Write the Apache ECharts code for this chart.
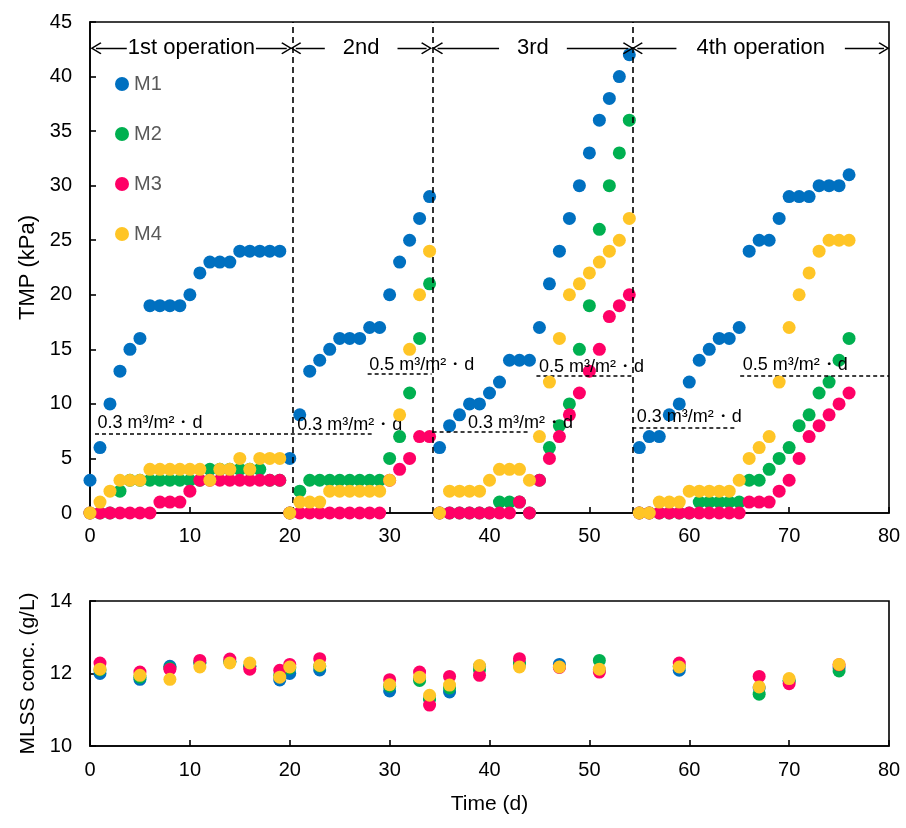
<!DOCTYPE html>
<html>
<head>
<meta charset="utf-8">
<script src="https://cdn.jsdelivr.net/npm/echarts@6/dist/echarts.min.js"></script>
<style>
  html, body { margin: 0; padding: 0; background: #fff; }
  #chart { width: 906px; height: 828px; }
</style>
</head>
<body>
<div id="chart"></div>
<script>
// Operating days (d) for the daily TMP record
const tmpDays = [
  0, 1, 2, 3, 4, 5, 6, 7, 8, 9, 10, 11, 12, 13, 14, 15, 16, 17, 18, 19,
  20, 21, 22, 23, 24, 25, 26, 27, 28, 29, 30, 31, 32, 33, 34,
  35, 36, 37, 38, 39, 40, 41, 42, 43, 44, 45, 46, 47, 48, 49, 50, 51, 52, 53, 54,
  55, 56, 57, 58, 59, 60, 61, 62, 63, 64, 65, 66, 67, 68, 69, 70, 71, 72, 73, 74, 75, 76
];

// TMP (kPa) per membrane
const tmpM1 = [
  3, 6, 10, 13, 15, 16, 19, 19, 19, 19, 20, 22, 23, 23, 23, 24, 24, 24, 24, 24,
  5, 9, 13, 14, 15, 16, 16, 16, 17, 17, 20, 23, 25, 27, 29,
  6, 8, 9, 10, 10, 11, 12, 14, 14, 14, 17, 21, 24, 27, 30, 33, 36, 38, 40, 42,
  6, 7, 7, 9, 10, 12, 14, 15, 16, 16, 17, 24, 25, 25, 27, 29, 29, 29, 30, 30, 30, 31
];
const tmpM2 = [
  0, 0, 0, 2, 3, 3, 3, 3, 3, 3, 3, 3, 4, 4, 4, 4, 4, 4, 3, 3,
  0, 2, 3, 3, 3, 3, 3, 3, 3, 3, 5, 7, 11, 16, 21,
  0, 0, 0, 0, 0, 0, 1, 1, 1, 0, 3, 6, 8, 10, 15, 19, 26, 30, 33, 36,
  0, 0, 0, 0, 0, 0, 1, 1, 1, 1, 1, 3, 3, 4, 5, 6, 8, 9, 11, 12, 14, 16
];
const tmpM3 = [
  0, 0, 0, 0, 0, 0, 0, 1, 1, 1, 2, 3, 3, 3, 3, 3, 3, 3, 3, 3,
  0, 0, 0, 0, 0, 0, 0, 0, 0, 0, 3, 4, 5, 7, 7,
  0, 0, 0, 0, 0, 0, 0, 0, 1, 0, 3, 5, 7, 9, 11, 13, 15, 18, 19, 20,
  0, 0, 0, 0, 0, 0, 0, 0, 0, 0, 0, 1, 1, 1, 2, 3, 5, 7, 8, 9, 10, 11
];
const tmpM4 = [
  0, 1, 2, 3, 3, 3, 4, 4, 4, 4, 4, 4, 3, 4, 4, 5, 4, 5, 5, 5,
  0, 1, 1, 1, 2, 2, 2, 2, 2, 2, 3, 9, 15, 20, 24,
  0, 2, 2, 2, 2, 3, 4, 4, 4, 3, 7, 12, 16, 20, 21, 22, 23, 24, 25, 27,
  0, 0, 1, 1, 1, 2, 2, 2, 2, 2, 3, 5, 6, 7, 12, 17, 20, 22, 24, 25, 25, 25
];

// MLSS sampling days and concentrations (g/L)
const mlssDays = [1, 5, 8, 11, 14, 16, 19, 20, 23, 30, 33, 34, 36, 39, 43, 47, 51, 59, 67, 70, 75];
const mlssM1 = [12.0, 11.84, 12.2, 12.3, 12.33, 12.2, 11.82, 12.0, 12.1, 11.52, 11.85, 11.3, 11.49, 12.2, 12.25, 12.25, 12.1, 12.09, 11.6, 11.8, 12.15];
const mlssM2 = [12.1, 11.9, 12.15, 12.3, 12.33, 12.2, 11.95, 12.15, 12.2, 11.65, 11.81, 11.3, 11.6, 12.1, 12.3, 12.18, 12.36, 12.2, 11.43, 11.8, 12.07];
const mlssM3 = [12.29, 12.04, 12.12, 12.36, 12.4, 12.12, 12.09, 12.25, 12.41, 11.83, 12.04, 11.13, 11.92, 11.95, 12.41, 12.17, 12.04, 12.29, 11.92, 11.72, 12.24];
const mlssM4 = [12.12, 11.95, 11.84, 12.18, 12.29, 12.29, 11.9, 12.18, 12.22, 11.69, 11.9, 11.4, 11.68, 12.22, 12.18, 12.18, 12.12, 12.18, 11.63, 11.86, 12.25];

const seriesNames = ['M1', 'M2', 'M3', 'M4'];
const seriesColors = ['#0070C0', '#00B050', '#FF0066', '#FFC526'];

// Tick labels
const xTicks = [0, 10, 20, 30, 40, 50, 60, 70, 80];
const tmpTicks = [0, 5, 10, 15, 20, 25, 30, 35, 40, 45];
const mlssTicks = [10, 12, 14];

// Operation periods: boundaries (d) and header spans (d, kPa)
const opBoundaries = [20.3, 34.3, 54.3];
const opLabels = ['1st operation', '2nd', '3rd', '4th operation'];
const opSpanFrom = [0.6, 20.6, 34.8, 54.8];
const opSpanTo = [19.7, 33.7, 53.9, 79.5];
const opSpanLevel = 42.6;

// Flux set-points: dashed segments [from d, to d, TMP level] and their text anchors [d, kPa]
const fluxTexts = ['0.3 m³/m²・d', '0.3 m³/m²・d', '0.5 m³/m²・d', '0.3 m³/m²・d', '0.5 m³/m²・d', '0.3 m³/m²・d', '0.5 m³/m²・d'];
const fluxSegments = [
  [0.5, 20.0, 7.25],
  [20.1, 28.2, 7.25],
  [27.8, 34.2, 12.75],
  [34.3, 44.1, 7.45],
  [44.7, 54.2, 12.6],
  [54.3, 64.7, 7.8],
  [65.1, 80, 12.6]
];
const fluxTextAnchors = [
  [0.7, 8.2],
  [20.7, 8.1],
  [27.9, 13.6],
  [37.8, 8.2],
  [44.9, 13.4],
  [54.7, 8.8],
  [65.3, 13.6]
];

const FONT = '"Liberation Sans", Arial, sans-serif';
const opLabelPad = [1, 18, 18, 20];
// open arrow head, tip pointing along the line
const chevron = 'path://M0,0 L6,8 L5,8.9 L0,2.2 L-5,8.9 L-6,8 Z';

const chart = echarts.init(document.getElementById('chart'), null, { renderer: 'canvas' });

function zipPoints(xs, ys) {
  return xs.map((x, i) => [x, ys[i]]);
}

const tmpValues = [tmpM1, tmpM2, tmpM3, tmpM4];
const mlssValues = [mlssM1, mlssM2, mlssM3, mlssM4];

const series = [];
tmpValues.forEach((vals, k) => {
  series.push({
    type: 'scatter', name: seriesNames[k], xAxisIndex: 0, yAxisIndex: 0,
    data: zipPoints(tmpDays, vals), symbol: 'circle', symbolSize: 13,
    itemStyle: { color: seriesColors[k], opacity: 1 }, z: 2 + k,
    emphasis: { disabled: true }, animation: false
  });
});
mlssValues.forEach((vals, k) => {
  series.push({
    type: 'scatter', name: seriesNames[k], xAxisIndex: 1, yAxisIndex: 1,
    data: zipPoints(mlssDays, vals), symbol: 'circle', symbolSize: 13,
    itemStyle: { color: seriesColors[k], opacity: 1 }, z: 2 + k,
    emphasis: { disabled: true }, animation: false
  });
});

// Dashed guides: operation boundaries and flux set-points
const boundaryLines = opBoundaries.map(x => ({
  xAxis: x, lineStyle: { type: [6, 4], width: 1.6, color: '#000' }, label: { show: false }
}));
const fluxLines = fluxSegments.map(s => ([
  { coord: [s[0], s[2]], lineStyle: { type: [4, 3], width: 1.5, color: '#000' }, label: { show: false } },
  { coord: [s[1], s[2]] }
]));

series.push({
  type: 'scatter', name: 'guides', xAxisIndex: 0, yAxisIndex: 0,
  data: [], z: 10, animation: false, silent: true,
  markLine: {
    silent: true, animation: false, symbol: 'none', precision: 2,
    data: [...boundaryLines, ...fluxLines]
  },
  markPoint: {
    silent: true, animation: false, symbol: 'circle', symbolSize: 1,
    itemStyle: { color: 'rgba(0,0,0,0)' },
    label: {
      show: true, position: 'right', distance: 0, fontFamily: FONT, fontSize: 18, color: '#000',
      formatter: p => p.name
    },
    data: fluxTextAnchors.map((c, i) => ({ coord: c, name: fluxTexts[i] }))
  }
});

// Period headers: double-headed arrows with the period name
const headerLines = opLabels.map((name, i) => ([
  {
    coord: [opSpanFrom[i], opSpanLevel], name,
    lineStyle: { type: 'solid', width: 1.3, color: '#000' },
    label: {
      show: true, position: 'insideMiddle', formatter: name,
      fontFamily: FONT, fontSize: 22, color: '#000',
      backgroundColor: '#fff', padding: [2, opLabelPad[i]]
    }
  },
  { coord: [opSpanTo[i], opSpanLevel] }
]));

series.push({
  type: 'scatter', name: 'periods', xAxisIndex: 0, yAxisIndex: 0,
  data: [], z: 11, animation: false, silent: true,
  markLine: {
    silent: true, animation: false, symbol: [chevron, chevron], symbolSize: [12, 11],
    precision: 2, data: headerLines
  }
});

const axisLineStyle = { color: '#000', width: 1.6 };
const tickStyle = { show: true, inside: true, length: 6, lineStyle: { color: '#000', width: 1.6 } };

const option = {
  backgroundColor: '#fff',
  animation: false,
  textStyle: { fontFamily: FONT },
  legend: {
    data: seriesNames, orient: 'vertical', left: 115, top: 74,
    itemWidth: 14, itemHeight: 14, itemGap: 30, padding: 0,
    icon: 'circle', selectedMode: false,
    textStyle: { fontFamily: FONT, fontSize: 20, color: '#595959' }
  },
  grid: [
    { left: 90, right: 17, top: 22, height: 491, show: true, borderColor: '#000', borderWidth: 1.6, backgroundColor: 'transparent' },
    { left: 90, right: 17, top: 601, height: 145, show: true, borderColor: '#000', borderWidth: 1.6, backgroundColor: 'transparent' }
  ],
  xAxis: [
    {
      gridIndex: 0, type: 'value', min: xTicks[0], max: xTicks[xTicks.length - 1], interval: 10,
      axisLine: { show: true, lineStyle: axisLineStyle }, axisTick: tickStyle,
      splitLine: { show: false },
      axisLabel: { fontSize: 20, color: '#000', margin: 13, fontFamily: FONT }
    },
    {
      gridIndex: 1, type: 'value', min: xTicks[0], max: xTicks[xTicks.length - 1], interval: 10,
      axisLine: { show: true, lineStyle: axisLineStyle }, axisTick: tickStyle,
      splitLine: { show: false },
      axisLabel: { fontSize: 20, color: '#000', margin: 14, fontFamily: FONT },
      name: 'Time (d)', nameLocation: 'middle', nameGap: 48,
      nameTextStyle: { fontSize: 21, color: '#000', fontFamily: FONT }
    }
  ],
  yAxis: [
    {
      gridIndex: 0, type: 'value', min: tmpTicks[0], max: tmpTicks[tmpTicks.length - 1], interval: 5,
      axisLine: { show: true, lineStyle: axisLineStyle }, axisTick: tickStyle,
      splitLine: { show: false },
      axisLabel: { fontSize: 20, color: '#000', margin: 18, fontFamily: FONT },
      name: 'TMP (kPa)', nameLocation: 'middle', nameGap: 48,
      nameTextStyle: { fontSize: 22, color: '#000', fontFamily: FONT }
    },
    {
      gridIndex: 1, type: 'value', min: mlssTicks[0], max: mlssTicks[mlssTicks.length - 1], interval: 2,
      axisLine: { show: true, lineStyle: axisLineStyle }, axisTick: tickStyle,
      splitLine: { show: false },
      axisLabel: { fontSize: 20, color: '#000', margin: 18, fontFamily: FONT },
      name: 'MLSS conc. (g/L)', nameLocation: 'middle', nameGap: 48,
      nameTextStyle: { fontSize: 21, color: '#000', fontFamily: FONT }
    }
  ],
  series
};

chart.setOption(option);
</script>
</body>
</html>
